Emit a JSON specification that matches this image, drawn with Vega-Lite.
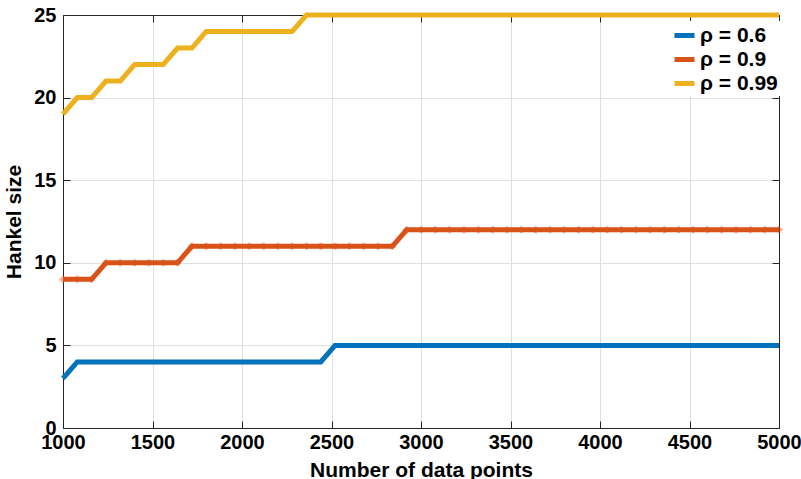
{
  "$schema": "https://vega.github.io/schema/vega-lite/v6.json",
  "autosize": "none",
  "width": 716,
  "height": 413,
  "padding": {"left": 63, "top": 15, "right": 22, "bottom": 51},
  "background": "white",
  "config": {
    "view": {"stroke": null},
    "font": "Liberation Sans"
  },
  "data": {"values": [
    {"n":1000,"rho":"ρ = 0.6","h":3},{"n":1080,"rho":"ρ = 0.6","h":4},{"n":1160,"rho":"ρ = 0.6","h":4},{"n":1240,"rho":"ρ = 0.6","h":4},{"n":1320,"rho":"ρ = 0.6","h":4},{"n":1400,"rho":"ρ = 0.6","h":4},{"n":1480,"rho":"ρ = 0.6","h":4},{"n":1560,"rho":"ρ = 0.6","h":4},{"n":1640,"rho":"ρ = 0.6","h":4},{"n":1720,"rho":"ρ = 0.6","h":4},{"n":1800,"rho":"ρ = 0.6","h":4},{"n":1880,"rho":"ρ = 0.6","h":4},{"n":1960,"rho":"ρ = 0.6","h":4},{"n":2040,"rho":"ρ = 0.6","h":4},{"n":2120,"rho":"ρ = 0.6","h":4},{"n":2200,"rho":"ρ = 0.6","h":4},{"n":2280,"rho":"ρ = 0.6","h":4},{"n":2360,"rho":"ρ = 0.6","h":4},{"n":2440,"rho":"ρ = 0.6","h":4},{"n":2520,"rho":"ρ = 0.6","h":5},{"n":2600,"rho":"ρ = 0.6","h":5},{"n":2680,"rho":"ρ = 0.6","h":5},{"n":2760,"rho":"ρ = 0.6","h":5},{"n":2840,"rho":"ρ = 0.6","h":5},{"n":2920,"rho":"ρ = 0.6","h":5},{"n":3000,"rho":"ρ = 0.6","h":5},{"n":3080,"rho":"ρ = 0.6","h":5},{"n":3160,"rho":"ρ = 0.6","h":5},{"n":3240,"rho":"ρ = 0.6","h":5},{"n":3320,"rho":"ρ = 0.6","h":5},{"n":3400,"rho":"ρ = 0.6","h":5},{"n":3480,"rho":"ρ = 0.6","h":5},{"n":3560,"rho":"ρ = 0.6","h":5},{"n":3640,"rho":"ρ = 0.6","h":5},{"n":3720,"rho":"ρ = 0.6","h":5},{"n":3800,"rho":"ρ = 0.6","h":5},{"n":3880,"rho":"ρ = 0.6","h":5},{"n":3960,"rho":"ρ = 0.6","h":5},{"n":4040,"rho":"ρ = 0.6","h":5},{"n":4120,"rho":"ρ = 0.6","h":5},{"n":4200,"rho":"ρ = 0.6","h":5},{"n":4280,"rho":"ρ = 0.6","h":5},{"n":4360,"rho":"ρ = 0.6","h":5},{"n":4440,"rho":"ρ = 0.6","h":5},{"n":4520,"rho":"ρ = 0.6","h":5},{"n":4600,"rho":"ρ = 0.6","h":5},{"n":4680,"rho":"ρ = 0.6","h":5},{"n":4760,"rho":"ρ = 0.6","h":5},{"n":4840,"rho":"ρ = 0.6","h":5},{"n":4920,"rho":"ρ = 0.6","h":5},{"n":5000,"rho":"ρ = 0.6","h":5},
    {"n":1000,"rho":"ρ = 0.9","h":9},{"n":1080,"rho":"ρ = 0.9","h":9},{"n":1160,"rho":"ρ = 0.9","h":9},{"n":1240,"rho":"ρ = 0.9","h":10},{"n":1320,"rho":"ρ = 0.9","h":10},{"n":1400,"rho":"ρ = 0.9","h":10},{"n":1480,"rho":"ρ = 0.9","h":10},{"n":1560,"rho":"ρ = 0.9","h":10},{"n":1640,"rho":"ρ = 0.9","h":10},{"n":1720,"rho":"ρ = 0.9","h":11},{"n":1800,"rho":"ρ = 0.9","h":11},{"n":1880,"rho":"ρ = 0.9","h":11},{"n":1960,"rho":"ρ = 0.9","h":11},{"n":2040,"rho":"ρ = 0.9","h":11},{"n":2120,"rho":"ρ = 0.9","h":11},{"n":2200,"rho":"ρ = 0.9","h":11},{"n":2280,"rho":"ρ = 0.9","h":11},{"n":2360,"rho":"ρ = 0.9","h":11},{"n":2440,"rho":"ρ = 0.9","h":11},{"n":2520,"rho":"ρ = 0.9","h":11},{"n":2600,"rho":"ρ = 0.9","h":11},{"n":2680,"rho":"ρ = 0.9","h":11},{"n":2760,"rho":"ρ = 0.9","h":11},{"n":2840,"rho":"ρ = 0.9","h":11},{"n":2920,"rho":"ρ = 0.9","h":12},{"n":3000,"rho":"ρ = 0.9","h":12},{"n":3080,"rho":"ρ = 0.9","h":12},{"n":3160,"rho":"ρ = 0.9","h":12},{"n":3240,"rho":"ρ = 0.9","h":12},{"n":3320,"rho":"ρ = 0.9","h":12},{"n":3400,"rho":"ρ = 0.9","h":12},{"n":3480,"rho":"ρ = 0.9","h":12},{"n":3560,"rho":"ρ = 0.9","h":12},{"n":3640,"rho":"ρ = 0.9","h":12},{"n":3720,"rho":"ρ = 0.9","h":12},{"n":3800,"rho":"ρ = 0.9","h":12},{"n":3880,"rho":"ρ = 0.9","h":12},{"n":3960,"rho":"ρ = 0.9","h":12},{"n":4040,"rho":"ρ = 0.9","h":12},{"n":4120,"rho":"ρ = 0.9","h":12},{"n":4200,"rho":"ρ = 0.9","h":12},{"n":4280,"rho":"ρ = 0.9","h":12},{"n":4360,"rho":"ρ = 0.9","h":12},{"n":4440,"rho":"ρ = 0.9","h":12},{"n":4520,"rho":"ρ = 0.9","h":12},{"n":4600,"rho":"ρ = 0.9","h":12},{"n":4680,"rho":"ρ = 0.9","h":12},{"n":4760,"rho":"ρ = 0.9","h":12},{"n":4840,"rho":"ρ = 0.9","h":12},{"n":4920,"rho":"ρ = 0.9","h":12},{"n":5000,"rho":"ρ = 0.9","h":12},
    {"n":1000,"rho":"ρ = 0.99","h":19},{"n":1080,"rho":"ρ = 0.99","h":20},{"n":1160,"rho":"ρ = 0.99","h":20},{"n":1240,"rho":"ρ = 0.99","h":21},{"n":1320,"rho":"ρ = 0.99","h":21},{"n":1400,"rho":"ρ = 0.99","h":22},{"n":1480,"rho":"ρ = 0.99","h":22},{"n":1560,"rho":"ρ = 0.99","h":22},{"n":1640,"rho":"ρ = 0.99","h":23},{"n":1720,"rho":"ρ = 0.99","h":23},{"n":1800,"rho":"ρ = 0.99","h":24},{"n":1880,"rho":"ρ = 0.99","h":24},{"n":1960,"rho":"ρ = 0.99","h":24},{"n":2040,"rho":"ρ = 0.99","h":24},{"n":2120,"rho":"ρ = 0.99","h":24},{"n":2200,"rho":"ρ = 0.99","h":24},{"n":2280,"rho":"ρ = 0.99","h":24},{"n":2360,"rho":"ρ = 0.99","h":25},{"n":2440,"rho":"ρ = 0.99","h":25},{"n":2520,"rho":"ρ = 0.99","h":25},{"n":2600,"rho":"ρ = 0.99","h":25},{"n":2680,"rho":"ρ = 0.99","h":25},{"n":2760,"rho":"ρ = 0.99","h":25},{"n":2840,"rho":"ρ = 0.99","h":25},{"n":2920,"rho":"ρ = 0.99","h":25},{"n":3000,"rho":"ρ = 0.99","h":25},{"n":3080,"rho":"ρ = 0.99","h":25},{"n":3160,"rho":"ρ = 0.99","h":25},{"n":3240,"rho":"ρ = 0.99","h":25},{"n":3320,"rho":"ρ = 0.99","h":25},{"n":3400,"rho":"ρ = 0.99","h":25},{"n":3480,"rho":"ρ = 0.99","h":25},{"n":3560,"rho":"ρ = 0.99","h":25},{"n":3640,"rho":"ρ = 0.99","h":25},{"n":3720,"rho":"ρ = 0.99","h":25},{"n":3800,"rho":"ρ = 0.99","h":25},{"n":3880,"rho":"ρ = 0.99","h":25},{"n":3960,"rho":"ρ = 0.99","h":25},{"n":4040,"rho":"ρ = 0.99","h":25},{"n":4120,"rho":"ρ = 0.99","h":25},{"n":4200,"rho":"ρ = 0.99","h":25},{"n":4280,"rho":"ρ = 0.99","h":25},{"n":4360,"rho":"ρ = 0.99","h":25},{"n":4440,"rho":"ρ = 0.99","h":25},{"n":4520,"rho":"ρ = 0.99","h":25},{"n":4600,"rho":"ρ = 0.99","h":25},{"n":4680,"rho":"ρ = 0.99","h":25},{"n":4760,"rho":"ρ = 0.99","h":25},{"n":4840,"rho":"ρ = 0.99","h":25},{"n":4920,"rho":"ρ = 0.99","h":25},{"n":5000,"rho":"ρ = 0.99","h":25}
  ]},
  "resolve": {"axis": {"x": "independent", "y": "independent"}},
  "layer": [
    {
      "mark": {"type": "line", "strokeWidth": 5, "clip": false},
      "encoding": {
        "x": {
          "field": "n", "type": "quantitative",
          "scale": {"domain": [1000, 5000], "nice": false, "zero": false},
          "axis": {
            "orient": "bottom",
            "values": [1000, 1500, 2000, 2500, 3000, 3500, 4000, 4500, 5000],
            "format": "d",
            "title": "Number of data points",
            "grid": true, "gridColor": "#dfdfdf", "gridWidth": 1,
            "domain": true, "domainColor": "#262626", "domainWidth": 1,
            "ticks": true, "tickColor": "#262626", "tickSize": -7,
            "labelPadding": 11, "labelFont": "Liberation Sans", "labelFontSize": 20, "labelFontWeight": "bold", "labelColor": "#000000",
            "labelFlush": false, "labelOverlap": false,
            "titleFont": "Liberation Sans", "titleFontSize": 21, "titleFontWeight": "bold", "titleColor": "#000000", "titlePadding": 7
          }
        },
        "y": {
          "field": "h", "type": "quantitative",
          "scale": {"domain": [0, 25], "nice": false},
          "axis": {
            "orient": "left",
            "values": [0, 5, 10, 15, 20, 25],
            "format": "d",
            "title": "Hankel size",
            "grid": true, "gridColor": "#dfdfdf", "gridWidth": 1,
            "domain": true, "domainColor": "#262626", "domainWidth": 1,
            "ticks": true, "tickColor": "#262626", "tickSize": -7,
            "labelPadding": 14, "labelFont": "Liberation Sans", "labelFontSize": 20, "labelFontWeight": "bold", "labelColor": "#000000",
            "labelFlush": false, "labelOverlap": false,
            "titleFont": "Liberation Sans", "titleFontSize": 21, "titleFontWeight": "bold", "titleColor": "#000000", "titlePadding": 9
          }
        },
        "color": {
          "field": "rho", "type": "nominal",
          "scale": {"domain": ["ρ = 0.6", "ρ = 0.9", "ρ = 0.99"], "range": ["#0072BD", "#D95319", "#EDB120"]},
          "legend": {
            "orient": "none", "legendX": 607, "legendY": 6,
            "title": null, "symbolType": "stroke", "symbolStrokeWidth": 5, "symbolSize": 400,
            "labelFont": "Liberation Sans", "labelFontSize": 21, "labelFontWeight": "bold", "labelColor": "#000000",
            "rowPadding": 1, "padding": 2, "fillColor": "white", "strokeColor": null, "labelOffset": 3
          }
        }
      }
    },
    {
      "transform": [{"filter": "datum.rho === 'ρ = 0.9'"}],
      "mark": {"type": "point", "shape": "cross", "size": 50, "filled": true, "color": "#D95319", "opacity": 0.45},
      "encoding": {
        "x": {
          "field": "n", "type": "quantitative",
          "axis": {
            "orient": "top", "values": [1000, 1500, 2000, 2500, 3000, 3500, 4000, 4500, 5000],
            "title": null, "labels": false, "grid": false,
            "domain": true, "domainColor": "#262626", "domainWidth": 1,
            "ticks": true, "tickColor": "#262626", "tickSize": -7
          }
        },
        "y": {
          "field": "h", "type": "quantitative",
          "axis": {
            "orient": "right", "values": [0, 5, 10, 15, 20, 25],
            "title": null, "labels": false, "grid": false,
            "domain": true, "domainColor": "#262626", "domainWidth": 1,
            "ticks": true, "tickColor": "#262626", "tickSize": -7
          }
        }
      }
    }
  ]
}
